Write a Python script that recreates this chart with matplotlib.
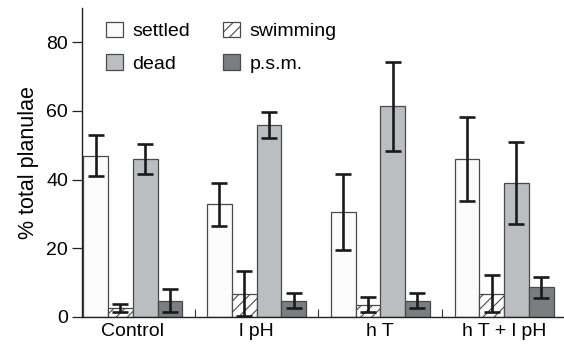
import matplotlib
matplotlib.use("Agg")
import matplotlib.pyplot as plt
import numpy as np

groups = ["Control", "l pH", "h T", "h T + l pH"]
series = ["settled", "swimming", "dead", "p.s.m."]
settled = [47, 32.8, 30.6, 46]
settled_err = [6, 6.3, 11, 12.3]
swimming = [2.6, 6.8, 3.6, 6.8]
swimming_err = [1.2, 6.6, 2.1, 5.4]
dead = [46, 56, 61.4, 39]
dead_err = [4.5, 3.8, 13, 12]
psm = [4.8, 4.8, 4.8, 8.6]
psm_err = [3.4, 2.3, 2.2, 3.0]

plt.rcParams['font.family'] = ['Liberation Sans', 'DejaVu Sans']
plt.rcParams['hatch.linewidth'] = 0.8

fig = plt.figure(figsize=(5.64, 3.48), dpi=100)
ax = fig.add_axes([0.1454, 0.0891, 0.8546, 0.888])

x = np.arange(len(groups))
w = 0.2
vals = [settled, swimming, dead, psm]
errs = [settled_err, swimming_err, dead_err, psm_err]
faces = ['#fbfbfb', '#ffffff', '#bcbdc0', '#7c7d80']
hatches = [None, '///', None, None]
offs = [-0.3, -0.1, 0.1, 0.3]
handles = []
for v, e, fc, h, o, lab in zip(vals, errs, faces, hatches, offs, series):
    b = ax.bar(x + o, v, width=w, color=fc, edgecolor='#4a4a4a', linewidth=0.9,
               hatch=h, label=lab, zorder=2)
    handles.append(b)
    ax.errorbar(x + o, v, yerr=e, fmt='none', ecolor='#1a1a1a', elinewidth=1.9,
                capsize=5.5, capthick=1.9, zorder=3)

ax.set_xlim(-0.411, 3.484)
ax.set_ylim(0, 90)
ax.set_yticks([0, 20, 40, 60, 80])
ax.set_xticks(x)
ax.set_xticklabels(groups)
ax.set_xticks([0.5, 1.5, 2.5], minor=True)
ax.tick_params(axis='x', which='major', length=0, labelsize=14, pad=4)
ax.tick_params(axis='x', which='minor', direction='in', length=6, width=0.8, color='#333333')
ax.tick_params(axis='y', length=7, width=0.9, labelsize=14, color='#222222', pad=3)
ax.spines['top'].set_visible(False)
ax.spines['right'].set_visible(False)
for s in ['left', 'bottom']:
    ax.spines[s].set_linewidth(1.0)
    ax.spines[s].set_color('#222222')
ax.set_ylabel('% total planulae', fontsize=15.5, labelpad=5)

order = [0, 2, 1, 3]
leg = ax.legend([handles[i] for i in order], [series[i] for i in order],
                ncol=2, loc='upper left', bbox_to_anchor=(0.05, 0.955), frameon=False,
                fontsize=14, handlelength=0.85, handleheight=0.85, handletextpad=0.5,
                columnspacing=1.7, labelspacing=0.72, borderpad=0, borderaxespad=0)

fig.savefig('out.png', dpi=100)
